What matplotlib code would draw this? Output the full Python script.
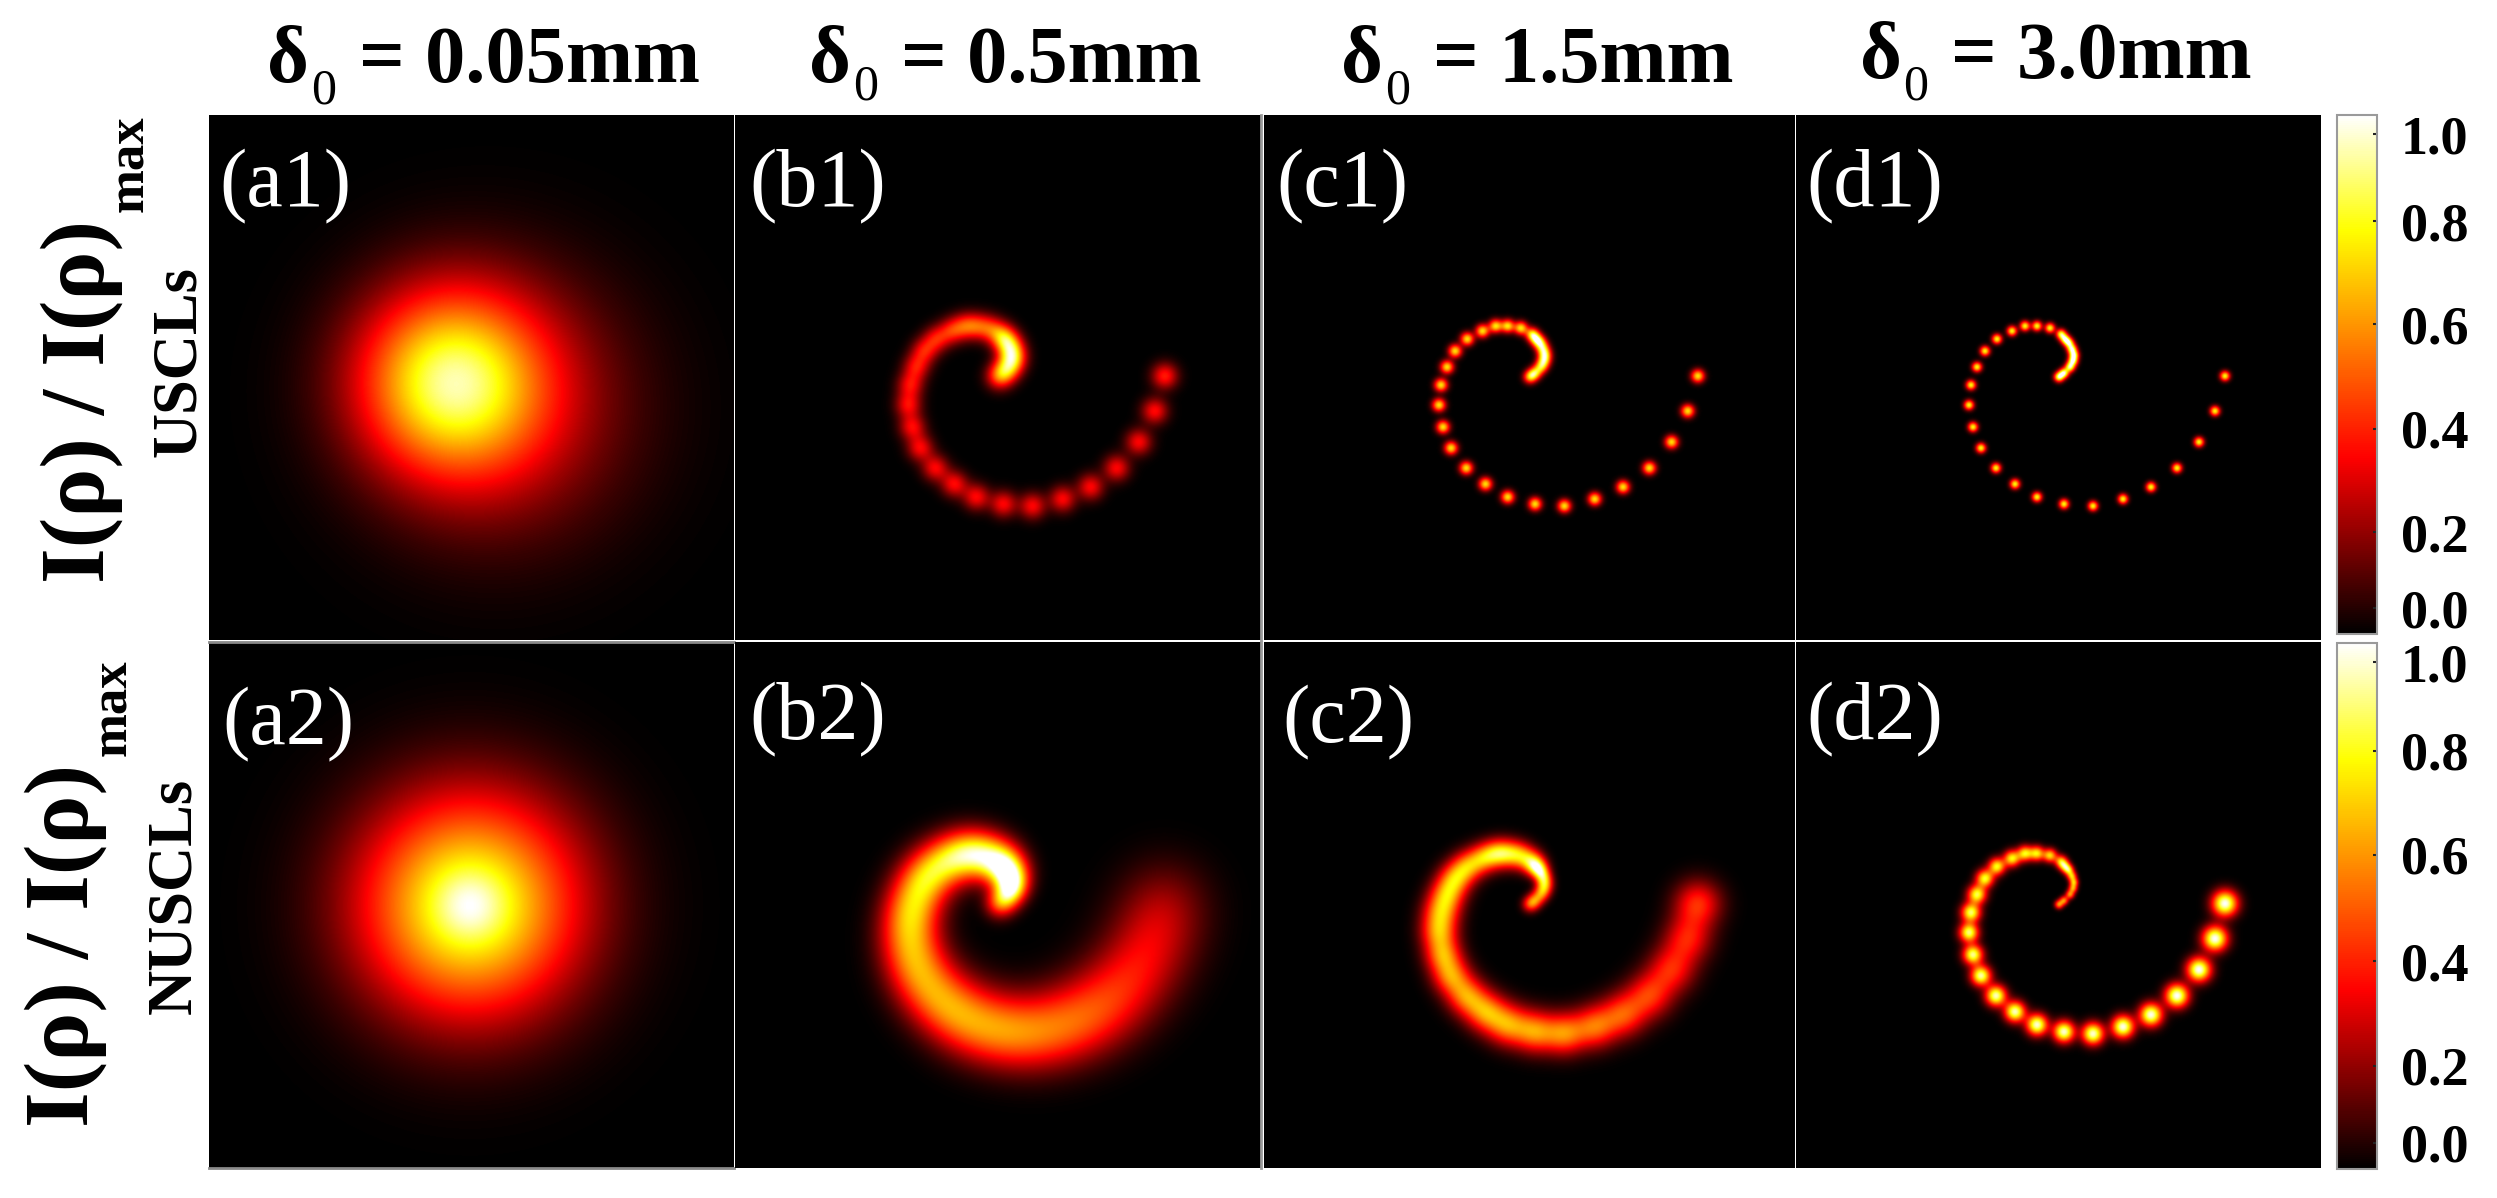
import numpy as np
import matplotlib
matplotlib.use("Agg")
import matplotlib.pyplot as plt
from matplotlib.colors import LinearSegmentedColormap

W, H = 2497, 1198

# spot centres along the spiral (panel pixels, 525 wide)
spiral_x = [263, 268, 274, 277, 278, 276, 273, 269, 265, 254, 241, 229, 216, 201, 189, 181,
            175, 173, 177, 185, 200, 219, 241, 268, 297, 327, 355, 381, 403, 419, 429]
spiral_y = [262, 258, 252, 246, 240, 234, 228, 224, 219, 213, 211, 211, 216, 224, 236, 252,
            270, 290, 312, 333, 353, 369, 382, 389, 391, 384, 372, 353, 327, 296, 261]

# spot peak intensities per panel
amp_b1 = [.30, .30, .30, .28, .27, .26, .26, .27, .28, .30, .31, .32, .32, .32, .32, .32,
          .32, .33, .33, .33, .33, .34, .34, .34, .34, .34, .34, .34, .34, .35, .38]
amp_c1 = [.60, .60, .58, .56, .55, .55, .58, .60, .64, .72, .72, .72, .72, .72, .72, .72,
          .72, .72, .72, .72, .72, .72, .72, .72, .72, .72, .72, .72, .72, .72, .72]
amp_d1 = [.85, .85, .82, .80, .78, .78, .76, .76, .75, .76, .76, .76, .76, .76, .76, .76,
          .76, .76, .76, .76, .76, .76, .76, .76, .76, .76, .76, .76, .76, .76, .76]
amp_b2 = [.25, .25, .25, .25, .25, .25, .26, .27, .29, .31, .31, .31, .31, .31, .31, .30,
          .30, .30, .29, .28, .28, .28, .28, .28, .27, .25, .23, .20, .17, .15, .15]
amp_c2 = [.36, .36, .36, .36, .36, .38, .40, .42, .44, .46, .47, .47, .47, .48, .50, .50,
          .50, .50, .50, .50, .50, .52, .52, .52, .51, .47, .43, .39, .36, .35, .40]
amp_d2 = [.55, .55, .55, .55, .58, .58, .60, .62, .65, .70, .72, .74, .76, .78, .80, .83,
          .86, .88, .90, .92, .94, .94, .96, .96, .96, .98, .98, 1.0, 1.0, 1.0, 1.0]

# constant spot size in the top row, growing along the spiral in the bottom row
sigma_b1, sigma_c1, sigma_d1 = 9.0, 4.5, 3.4
sig_b2 = [10, 10, 10, 10, 11, 12, 13, 14, 15, 16, 16, 17, 17, 18, 18, 19,
          19, 20, 21, 22, 23, 24, 25, 25, 26, 27, 28, 29, 30, 31, 31]
sig_c2 = [5.5, 5.5, 5.5, 5.5, 5.5, 5.5, 6, 7, 8, 9, 9.5, 9.5, 10, 10.5, 11, 11.5,
          12, 12, 12, 12.5, 13, 13.5, 14, 14, 14, 14.5, 15, 15.5, 16, 16, 16]
sig_d2 = [3, 3, 3, 3, 3, 3.2, 3.5, 3.8, 4.2, 4.6, 5, 5.2, 5.5, 5.7, 6, 6.3,
          6.5, 6.5, 6.7, 6.8, 7, 7, 7.2, 7.2, 7.4, 7.6, 7.8, 8, 8.2, 8.5, 8.7]

# the two broad panels: a few gaussians (x, y, peak, sigma)
blob_a1_x, blob_a1_y, blob_a1_amp, blob_a1_sig = [240, 290], [265, 292], [.70, .28], [62, 88]
blob_a2_x, blob_a2_y, blob_a2_amp, blob_a2_sig = [261, 261], [263, 263], [.86, .14], [76, 24]

headers = ["= 0.05mm", "= 0.5mm", "= 1.5mm", "= 3.0mm"]
panel_labels = ["(a1)", "(b1)", "(c1)", "(d1)", "(a2)", "(b2)", "(c2)", "(d2)"]
cbar_ticks = [.05, .196, .395, .597, .795, .963]
cbar_labels = ["0.0", "0.2", "0.4", "0.6", "0.8", "1.0"]
cmap_stops = [(0, "#000000"), (.34, "#ff0000"), (.78, "#ffff00"), (1, "#ffffff")]

plt.rcParams["font.family"] = ["Liberation Serif", "DejaVu Serif"]
cmap = LinearSegmentedColormap.from_list("hotish", cmap_stops)

gx, gy = np.meshgrid(np.arange(525) + .5, np.arange(525) + .5)


def field(xs, ys, amps, sigmas):
    z = np.zeros_like(gx)
    for x, y, a, s in zip(xs, ys, amps, sigmas):
        z += a * np.exp(-((gx - x) ** 2 + (gy - y) ** 2) / (2 * s * s))
    return z


def spiral(amps, sigmas):
    if np.isscalar(sigmas):
        sigmas = [sigmas] * len(amps)
    return field(spiral_x, spiral_y, amps, sigmas)


def box(x0, y0, x1, y1):
    return [x0 / W, 1 - y1 / H, (x1 - x0) / W, (y1 - y0) / H]


def put(x, y, s, size, weight="bold", color="black", rot=0):
    fig.text(x / W, 1 - y / H, s, fontsize=size, fontweight=weight, color=color,
             rotation=rot, rotation_mode="anchor", ha="left", va="baseline")


fig = plt.figure(figsize=(W / 100, H / 100), dpi=100, facecolor="white")

cols = [(209, 734), (735, 1261), (1264, 1795), (1796, 2321)]
rows = [(115, 640), (642, 1168)]
fields = [
    [field(blob_a1_x, blob_a1_y, blob_a1_amp, blob_a1_sig), spiral(amp_b1, sigma_b1),
     spiral(amp_c1, sigma_c1), spiral(amp_d1, sigma_d1)],
    [field(blob_a2_x, blob_a2_y, blob_a2_amp, blob_a2_sig), spiral(amp_b2, sig_b2),
     spiral(amp_c2, sig_c2), spiral(amp_d2, sig_d2)],
]

for r, (y0, y1) in enumerate(rows):
    for c, (x0, x1) in enumerate(cols):
        ax = fig.add_axes(box(x0, y0, x1, y1))
        ax.imshow(fields[r][c], cmap=cmap, vmin=0, vmax=1, extent=[0, 525, 525, 0],
                  aspect="auto", interpolation="bilinear")
        ax.set_xticks([])
        ax.set_yticks([])
        for sp in ax.spines.values():
            sp.set_visible(False)
        # the grey seams of the original montage
        if r == 1 and c == 0:
            for side in ["top", "bottom"]:
                ax.spines[side].set_visible(True)
                ax.spines[side].set_color("#8a8a8a")
                ax.spines[side].set_linewidth(2)
        if c == 1:
            ax.spines["right"].set_visible(True)
            ax.spines["right"].set_color("#9a9a9a")
            ax.spines["right"].set_linewidth(2)

# colour bars
for y0, y1 in [(115, 634), (643, 1169)]:
    cax = fig.add_axes(box(2337, y0, 2377, y1))
    sm = plt.cm.ScalarMappable(cmap=cmap, norm=plt.Normalize(0, 1))
    cb = fig.colorbar(sm, cax=cax)
    cb.set_ticks(cbar_ticks, labels=cbar_labels)
    cb.outline.set_edgecolor("#9a9a9a")
    cb.outline.set_linewidth(1.5)
    cax.tick_params(axis="y", direction="in", length=3, width=1.5, color="#222222",
                    pad=17, labelsize=39)
    for t in cax.get_yticklabels():
        t.set_fontweight("bold")

# column headers
header_x = [(267, 311, 359, 82, 103), (809, 853, 901, 82, 100),
            (1341, 1385, 1433, 82, 103), (1860, 1903, 1951, 78, 99)]
for (dx, zx, tx, base, zb), s in zip(header_x, headers):
    put(dx, base, "δ", 58)
    put(zx, zb, "0", 36, weight="normal")
    put(tx, base, s, 58)

# panel tags
tag_pos = [(219, 206), (749, 206), (1276, 206), (1806, 206),
           (222, 744), (749, 739), (1282, 742), (1806, 739)]
for (x, y), s in zip(tag_pos, panel_labels):
    put(x, y, s, 59, weight="normal", color="white")

# row labels
put(104, 583, "I(ρ) / I(ρ)", 66, rot=90)
put(143, 212, "max", 38, rot=90)
put(195, 457, "USCLs", 45, rot=90)
put(88, 1127, "I(ρ) / I(ρ)", 66, rot=90)
put(126, 756, "max", 38, rot=90)
put(190, 1014, "NUSCLs", 45, rot=90)

fig.savefig("out.png", dpi=100, facecolor="white")
